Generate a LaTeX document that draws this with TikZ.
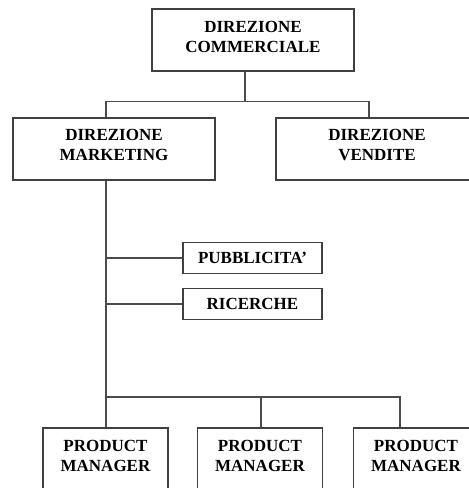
\documentclass[tikz,border=0pt]{standalone}
\usepackage{fontspec}
\setmainfont{Liberation Serif}
\usetikzlibrary{calc}
\begin{document}
\begin{tikzpicture}[x=1pt,y=-1pt,
  box/.style={draw=black!75, line width=1.4pt, rectangle, inner sep=0pt},
  bigbox/.style={box, minimum width=202pt, minimum height=62pt},
  smallbox/.style={box, minimum width=139pt, minimum height=31pt},
  pmbox/.style={box, minimum width=125pt, minimum height=62pt},
  lbl/.style={font=\bfseries\fontsize{17}{20}\selectfont, align=center, inner sep=0pt},
  link/.style={draw=black!70, line width=1.2pt}]
\useasboundingbox (0,0) rectangle (469,488);
\clip (0,0) rectangle (469,488);

% boxes
\node[bigbox] (dc) at (253,40) {};
\node[lbl] (dct) at (253,37) {DIREZIONE\\COMMERCIALE};
\node[bigbox] (dm) at (114,149) {};
\node[lbl] (dmt) at (114,145) {DIREZIONE\\MARKETING};
\node[bigbox] (dv) at (377,149) {};
\node[lbl] (dvt) at (377,145) {DIREZIONE\\VENDITE};
\node[smallbox] (pb) at (252.5,258) {};
\node[lbl] (pbt) at (252.5,258) {PUBBLICITA’};
\node[smallbox] (ri) at (252.5,304) {};
\node[lbl] (rit) at (252.5,304) {RICERCHE};
\node[pmbox] (pm1) at (105.5,459) {};
\node[lbl] (pm1t) at (105.5,456) {PRODUCT\\MANAGER};
\node[pmbox] (pm2) at (260,459) {};
\node[lbl] (pm2t) at (260,456) {PRODUCT\\MANAGER};
\node[pmbox] (pm3) at (416,459) {};
\node[lbl] (pm3t) at (416,456) {PRODUCT\\MANAGER};

% connectors
\draw[link] ($(dc.south)+(-8,0)$) -- ++(0,30) coordinate (j1);
\draw[link] ($(dm.north)+(-8,0)$) |- (j1) -| ($(dv.north)+(-8,0)$);
\draw[link] ($(dm.south)+(-8,0)$) coordinate (sp) -- (sp |- pm1.north);
\draw[link] (sp |- pb.west) -- (pb.west);
\draw[link] (sp |- ri.west) -- (ri.west);
\coordinate (bar) at (106,397);
\draw[link] (sp |- bar) -| ($(pm3.north)+(-16,0)$);
\draw[link] ($(pm2.north)+(1,0)$) -- ($(pm2.north |- bar)+(1,0)$);
\end{tikzpicture}
\end{document}
